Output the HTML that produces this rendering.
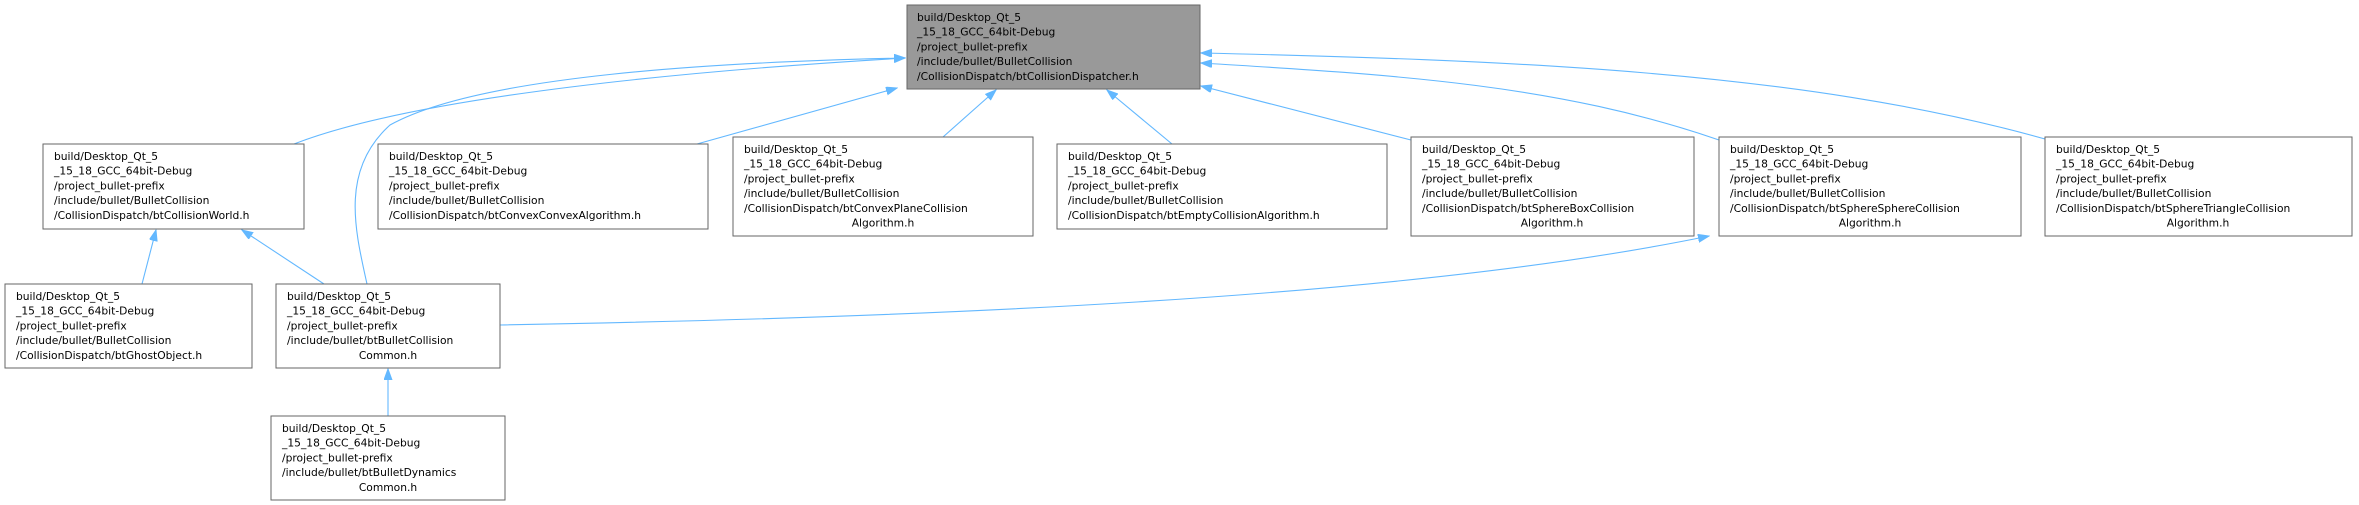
<!DOCTYPE html>
<html><head><meta charset="utf-8"><style>
html,body{margin:0;padding:0;background:#fff;}
svg{display:block;}
text{font-family:"DejaVu Sans","Liberation Sans",sans-serif;font-size:10.7px;fill:#000;}
.b{fill:#fff;stroke:#666;stroke-width:1;}
.e{fill:none;stroke:#63b8ff;stroke-width:1.1;}
</style></head><body>
<svg width="2359" height="505" viewBox="0 0 2359 505" xmlns="http://www.w3.org/2000/svg">
<defs>
<marker id="a" markerWidth="12" markerHeight="10" refX="11" refY="4" orient="auto" markerUnits="userSpaceOnUse">
<path d="M0,0 L11,4 L0,8 z" fill="#63b8ff" stroke="#63b8ff"/>
</marker>
</defs>

<!-- edges -->
<path class="e" marker-end="url(#a)" d="M294,144 C420,95 700,70 905,58"/>
<path class="e" marker-end="url(#a)" d="M367,284 C355,230 340,170 390,125 C480,75 720,62 905,58"/>
<path class="e" marker-end="url(#a)" d="M697,144 L897,88"/>
<path class="e" marker-end="url(#a)" d="M943,137 L996,90"/>
<path class="e" marker-end="url(#a)" d="M1172,144 L1107,90"/>
<path class="e" marker-end="url(#a)" d="M1411,140 L1201,86"/>
<path class="e" marker-end="url(#a)" d="M1719,140 C1560,85 1400,75 1201,63"/>
<path class="e" marker-end="url(#a)" d="M2045,139 C1800,70 1500,60 1201,53"/>
<path class="e" marker-end="url(#a)" d="M500,325 C900,318 1400,300 1709,236"/>
<path class="e" marker-end="url(#a)" d="M142,284 L156,230"/>
<path class="e" marker-end="url(#a)" d="M324,284 L242,230"/>
<path class="e" marker-end="url(#a)" d="M388,416 L388,369"/>

<!-- root -->
<rect x="907" y="5" width="293" height="84" fill="#999" stroke="#666"/>
<text x="917" y="21">build/Desktop_Qt_5</text>
<text x="917" y="35.7">_15_18_GCC_64bit-Debug</text>
<text x="917" y="50.4">/project_bullet-prefix</text>
<text x="917" y="65.1">/include/bullet/BulletCollision</text>
<text x="917" y="79.8">/CollisionDispatch/btCollisionDispatcher.h</text>

<!-- CollisionWorld -->
<rect class="b" x="43" y="144" width="261" height="85"/>
<text x="54" y="160">build/Desktop_Qt_5</text>
<text x="54" y="174.7">_15_18_GCC_64bit-Debug</text>
<text x="54" y="189.4">/project_bullet-prefix</text>
<text x="54" y="204.1">/include/bullet/BulletCollision</text>
<text x="54" y="218.8">/CollisionDispatch/btCollisionWorld.h</text>

<!-- ConvexConvex -->
<rect class="b" x="378" y="144" width="330" height="85"/>
<text x="389" y="160">build/Desktop_Qt_5</text>
<text x="389" y="174.7">_15_18_GCC_64bit-Debug</text>
<text x="389" y="189.4">/project_bullet-prefix</text>
<text x="389" y="204.1">/include/bullet/BulletCollision</text>
<text x="389" y="218.8">/CollisionDispatch/btConvexConvexAlgorithm.h</text>

<!-- ConvexPlane -->
<rect class="b" x="733" y="137" width="300" height="99"/>
<text x="744" y="153">build/Desktop_Qt_5</text>
<text x="744" y="167.7">_15_18_GCC_64bit-Debug</text>
<text x="744" y="182.4">/project_bullet-prefix</text>
<text x="744" y="197.1">/include/bullet/BulletCollision</text>
<text x="744" y="211.8">/CollisionDispatch/btConvexPlaneCollision</text>
<text x="883" y="226.5" text-anchor="middle">Algorithm.h</text>

<!-- Empty -->
<rect class="b" x="1057" y="144" width="330" height="85"/>
<text x="1068" y="160">build/Desktop_Qt_5</text>
<text x="1068" y="174.7">_15_18_GCC_64bit-Debug</text>
<text x="1068" y="189.4">/project_bullet-prefix</text>
<text x="1068" y="204.1">/include/bullet/BulletCollision</text>
<text x="1068" y="218.8">/CollisionDispatch/btEmptyCollisionAlgorithm.h</text>

<!-- SphereBox -->
<rect class="b" x="1411" y="137" width="283" height="99"/>
<text x="1422" y="153">build/Desktop_Qt_5</text>
<text x="1422" y="167.7">_15_18_GCC_64bit-Debug</text>
<text x="1422" y="182.4">/project_bullet-prefix</text>
<text x="1422" y="197.1">/include/bullet/BulletCollision</text>
<text x="1422" y="211.8">/CollisionDispatch/btSphereBoxCollision</text>
<text x="1552" y="226.5" text-anchor="middle">Algorithm.h</text>

<!-- SphereSphere -->
<rect class="b" x="1719" y="137" width="302" height="99"/>
<text x="1730" y="153">build/Desktop_Qt_5</text>
<text x="1730" y="167.7">_15_18_GCC_64bit-Debug</text>
<text x="1730" y="182.4">/project_bullet-prefix</text>
<text x="1730" y="197.1">/include/bullet/BulletCollision</text>
<text x="1730" y="211.8">/CollisionDispatch/btSphereSphereCollision</text>
<text x="1870" y="226.5" text-anchor="middle">Algorithm.h</text>

<!-- Triangle -->
<rect class="b" x="2045" y="137" width="307" height="99"/>
<text x="2056" y="153">build/Desktop_Qt_5</text>
<text x="2056" y="167.7">_15_18_GCC_64bit-Debug</text>
<text x="2056" y="182.4">/project_bullet-prefix</text>
<text x="2056" y="197.1">/include/bullet/BulletCollision</text>
<text x="2056" y="211.8">/CollisionDispatch/btSphereTriangleCollision</text>
<text x="2198" y="226.5" text-anchor="middle">Algorithm.h</text>

<!-- Ghost -->
<rect class="b" x="5" y="284" width="247" height="84"/>
<text x="16" y="300">build/Desktop_Qt_5</text>
<text x="16" y="314.7">_15_18_GCC_64bit-Debug</text>
<text x="16" y="329.4">/project_bullet-prefix</text>
<text x="16" y="344.1">/include/bullet/BulletCollision</text>
<text x="16" y="358.8">/CollisionDispatch/btGhostObject.h</text>

<!-- BulletCollisionCommon -->
<rect class="b" x="276" y="284" width="224" height="84"/>
<text x="287" y="300">build/Desktop_Qt_5</text>
<text x="287" y="314.7">_15_18_GCC_64bit-Debug</text>
<text x="287" y="329.4">/project_bullet-prefix</text>
<text x="287" y="344.1">/include/bullet/btBulletCollision</text>
<text x="388" y="358.8" text-anchor="middle">Common.h</text>

<!-- Dynamics -->
<rect class="b" x="271" y="416" width="234" height="84"/>
<text x="282" y="432">build/Desktop_Qt_5</text>
<text x="282" y="446.7">_15_18_GCC_64bit-Debug</text>
<text x="282" y="461.4">/project_bullet-prefix</text>
<text x="282" y="476.1">/include/bullet/btBulletDynamics</text>
<text x="388" y="490.8" text-anchor="middle">Common.h</text>
</svg>
</body></html>
